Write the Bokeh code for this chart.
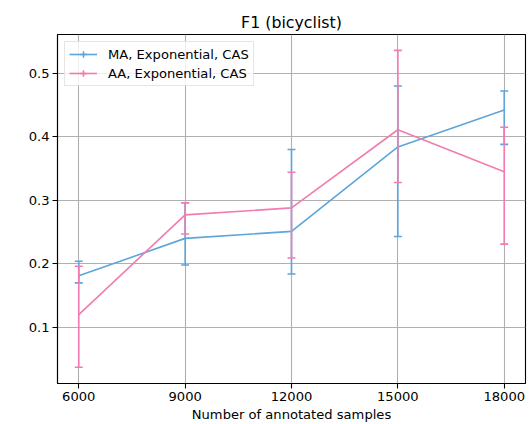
from bokeh.plotting import figure
from bokeh.models import (ColumnDataSource, Whisker, TeeHead, FixedTicker,
                          Range1d, Legend, LegendItem)
from bokeh.embed import file_html
from bokeh.resources import INLINE

# Number of annotated samples
sizes = [6000, 9000, 12000, 15000, 18000]

# MA, Exponential, CAS: mean F1 with lower / upper error limits
ma_mean = [0.181, 0.240, 0.251, 0.384, 0.442]
ma_low = [0.170, 0.198, 0.184, 0.243, 0.388]
ma_high = [0.204, 0.296, 0.380, 0.480, 0.472]

# AA, Exponential, CAS
aa_mean = [0.120, 0.277, 0.288, 0.411, 0.345]
aa_low = [0.037, 0.247, 0.209, 0.328, 0.231]
aa_high = [0.196, 0.296, 0.344, 0.536, 0.415]

x_ticks = [6000, 9000, 12000, 15000, 18000]
y_ticks = [0.1, 0.2, 0.3, 0.4, 0.5]

series = [
    ("MA, Exponential, CAS", ma_mean, ma_low, ma_high, "#5DA5DA"),
    ("AA, Exponential, CAS", aa_mean, aa_low, aa_high, "#F17CB0"),
]

FONT = "DejaVu Sans"
SIZE = "13.1px"
NAN = float("nan")

p = figure(frame_width=468, frame_height=349,
           min_border_left=57, min_border_right=4,
           min_border_top=34, min_border_bottom=41,
           x_range=Range1d(5400, 18600), y_range=Range1d(0.0115, 0.561),
           output_backend="svg", toolbar_location=None,
           background_fill_color="white", border_fill_color="white")

p.title.text = "F1 (bicyclist)"
p.title.align = "center"
p.title.text_font = FONT
p.title.text_font_size = "15.8px"
p.title.text_font_style = "normal"
p.title.text_color = "black"
p.title.standoff = 6

p.outline_line_color = "black"
p.outline_line_width = 1.1
p.outline_line_alpha = 1

for ax in (p.xaxis[0], p.yaxis[0]):
    ax.major_label_text_font = FONT
    ax.major_label_text_font_size = SIZE
    ax.major_label_text_color = "black"
    ax.axis_line_color = "black"
    ax.axis_line_width = 1.1
    ax.major_tick_line_color = "black"
    ax.major_tick_line_width = 1.1
    ax.major_tick_out = 5
    ax.major_tick_in = 0
    ax.minor_tick_line_color = None
    ax.major_label_standoff = 3

p.xaxis.ticker = FixedTicker(ticks=x_ticks)
p.yaxis.ticker = FixedTicker(ticks=y_ticks)
p.xaxis.axis_label = "Number of annotated samples"
p.xaxis.axis_label_text_font = FONT
p.xaxis.axis_label_text_font_size = SIZE
p.xaxis.axis_label_text_font_style = "normal"
p.xaxis.axis_label_text_color = "black"
p.xaxis.axis_label_standoff = 3

p.grid.grid_line_color = "#b0b0b0"
p.grid.grid_line_width = 1.1
p.xgrid.ticker = FixedTicker(ticks=x_ticks)
p.ygrid.ticker = FixedTicker(ticks=y_ticks)

items = []
for label, mean, low, high, color in series:
    src = ColumnDataSource(dict(x=sizes, y=mean, lower=low, upper=high))
    line = p.line("x", "y", source=src, line_color=color, line_width=1.6)
    whisker = Whisker(source=src, base="x", lower="lower", upper="upper",
                      line_color=color, line_width=1.6, level="glyph",
                      upper_head=TeeHead(size=8, line_color=color, line_width=1.6),
                      lower_head=TeeHead(size=8, line_color=color, line_width=1.6))
    p.add_layout(whisker)
    # cross marker (never placed on the plot) adds the vertical
    # error-bar stroke to the legend symbol
    bar = p.scatter(x=[NAN], y=[NAN], marker="cross", size=14,
                    line_color=color, line_width=1.6)
    items.append(LegendItem(label=label, renderers=[line, bar]))

legend = Legend(items=items, location="top_left",
                label_text_font=FONT, label_text_font_size=SIZE,
                label_text_color="black",
                glyph_width=28, glyph_height=16, label_height=16,
                label_standoff=11, spacing=3, padding=4, margin=7,
                border_line_color="#cccccc", border_line_width=1,
                background_fill_color="white", background_fill_alpha=0.8)
p.add_layout(legend)

open("out.html", "w").write(file_html(p, INLINE))
